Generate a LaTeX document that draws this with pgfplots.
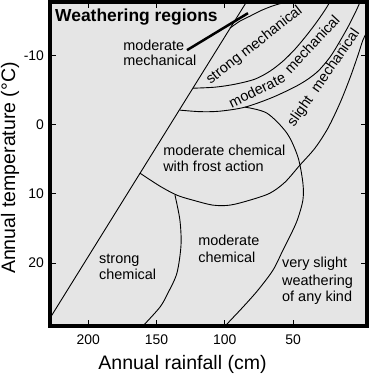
\documentclass[border=0pt]{standalone}
\usepackage{fontspec}
\setmainfont{Liberation Sans}
\usepackage{pgfplots}
\pgfplotsset{compat=1.18}
\begin{document}
\begin{tikzpicture}
\begin{axis}[
  scale only axis, width=316.5bp, height=324.5bp,
  x dir=reverse, y dir=reverse,
  xmin=-4.0, xmax=227.6, ymin=-17.8, ymax=29.1,
  axis background/.style={fill=black!10},
  axis line style={line width=4bp},
  tick align=inside, major tick length=6bp,
  tick style={line width=0.8bp, black},
  xtick={200,150,100,50}, xticklabels={200,150,100,50},
  ytick={-10,0,10,20}, yticklabels={-10,0,10,20},
  xticklabel style={font=\fontsize{14}{14}\selectfont, yshift=-5bp},
  yticklabel style={font=\fontsize{14}{14}\selectfont, xshift=-3bp},
  clip=true,
]
% diagonal
\addplot[black, line width=0.9bp] coordinates {(235,30.2) (75,-20.66)};
% strong mechanical upper
\addplot[black, line width=0.9bp, smooth] coordinates {(96.3,-13.95) (88.98,-14.96) (81.66,-15.68) (72.88,-16.55) (63.37,-17.27) (52.39,-17.85) (45.07,-18.14)};
% strong mechanical lower
\addplot[black, line width=0.9bp, smooth] coordinates {(123.2,-5.27) (107.1,-5.42) (92.5,-5.85) (78.0,-6.58) (67.0,-7.73) (57.5,-9.18) (48.7,-10.91) (40.7,-12.79) (33.4,-14.67) (26.8,-16.55) (22.4,-17.99) (20.9,-18.57)};
% moderate mechanical lower
\addplot[black, line width=0.9bp, smooth] coordinates {(132.9,-2.10) (118.2,-1.88) (103.6,-1.95) (85.3,-2.53) (64.8,-3.97) (45.1,-5.85) (32.6,-7.59) (23.1,-9.75) (15.8,-12.07) (9.2,-14.38) (4.1,-16.40) (0.44,-17.99) (-1.02,-18.57)};
% frost-action lower / slight mechanical lower
\addplot[black, line width=0.9bp, smooth] coordinates {(162.1,7.01) (147.5,8.89) (135.1,10.19) (123.4,10.91) (108.7,11.63) (96.3,11.63) (81.7,10.91) (67.0,9.90) (56.0,8.31) (45.1,5.85) (34.1,3.40) (24.6,0.51) (15.8,-3.11) (8.5,-6.72) (2.6,-10.04) (-1.0,-12.21) (-4.7,-13.66)};
% big arc / very slight boundary
\addplot[black, line width=0.9bp, smooth] coordinates {(85.3,-2.53) (69.2,-1.66) (54.6,1.23) (46.5,4.70) (42.9,8.45) (42.9,10.91) (46.5,13.51) (50.2,15.24) (57.5,18.14) (64.8,21.03) (75.8,23.92) (86.8,26.37) (99.9,29.12) (103.6,30.0)};
% strong chemical / moderate chemical
\addplot[black, line width=0.9bp, smooth] coordinates {(136.5,10.19) (132.9,13.80) (132.1,17.41) (135.1,21.46) (141.7,24.35) (147.5,26.37) (160.0,29.12) (162.1,29.7)};
% pointer
\addplot[black, line width=2.5bp] coordinates {(127.7,-10.77) (83.1,-16.11)};

\node[anchor=base west, inner sep=0, font=\fontsize{17.5}{18}\selectfont\bfseries] at (axis cs:224.3,-14.96) {Weathering regions};
\node[anchor=base west, inner sep=0, font=\fontsize{14.5}{16}\selectfont] at (axis cs:174.5,-10.77) {moderate};
\node[anchor=base west, inner sep=0, font=\fontsize{14.5}{16}\selectfont] at (axis cs:174.5,-8.6) {mechanical};
\node[rotate=38, inner sep=0, font=\fontsize{14.5}{16}\selectfont] at (axis cs:78.4,-11.42) {strong mechanical};
\node[rotate=26, inner sep=0, font=\fontsize{14.5}{16}\selectfont] at (axis cs:76.5,-4.99) {moderate};
\node[rotate=47, inner sep=0, font=\fontsize{14.5}{16}\selectfont] at (axis cs:36.3,-11.63) {mechanical};
\node[rotate=55, inner sep=0, font=\fontsize{14.5}{16}\selectfont] at (axis cs:27.5,-6.72) {slight~ mechanical};
\node[anchor=base west, inner sep=0, font=\fontsize{14.5}{16}\selectfont] at (axis cs:145.2,4.41) {moderate chemical};
\node[anchor=base west, inner sep=0, font=\fontsize{14.5}{16}\selectfont] at (axis cs:145.2,6.82) {with frost action};
\node[anchor=base west, inner sep=0, font=\fontsize{14.5}{16}\selectfont] at (axis cs:192.1,20.0) {strong};
\node[anchor=base west, inner sep=0, font=\fontsize{14.5}{16}\selectfont] at (axis cs:192.1,22.33) {chemical};
\node[anchor=base west, inner sep=0, font=\fontsize{14.5}{16}\selectfont] at (axis cs:119.6,17.41) {moderate};
\node[anchor=base west, inner sep=0, font=\fontsize{14.5}{16}\selectfont] at (axis cs:119.6,19.87) {chemical};
\node[anchor=base west, inner sep=0, font=\fontsize{14.5}{16}\selectfont] at (axis cs:58.2,20.7) {very slight};
\node[anchor=base west, inner sep=0, font=\fontsize{14.5}{16}\selectfont] at (axis cs:58.2,23.2) {weathering};
\node[anchor=base west, inner sep=0, font=\fontsize{14.5}{16}\selectfont] at (axis cs:58.2,25.5) {of any kind};
\end{axis}
\node[anchor=base, inner sep=0, font=\fontsize{19.6}{20}\selectfont] at (132bp,-43.5bp) {Annual rainfall (cm)};
\node[anchor=base, rotate=90, inner sep=0, font=\fontsize{19.6}{20}\selectfont] at (-35.5bp,158bp) {Annual temperature (°C)};
\pgfresetboundingbox
\path[use as bounding box] (-50.5bp,-48bp) rectangle (321.5bp,326bp);
\end{tikzpicture}
\end{document}
